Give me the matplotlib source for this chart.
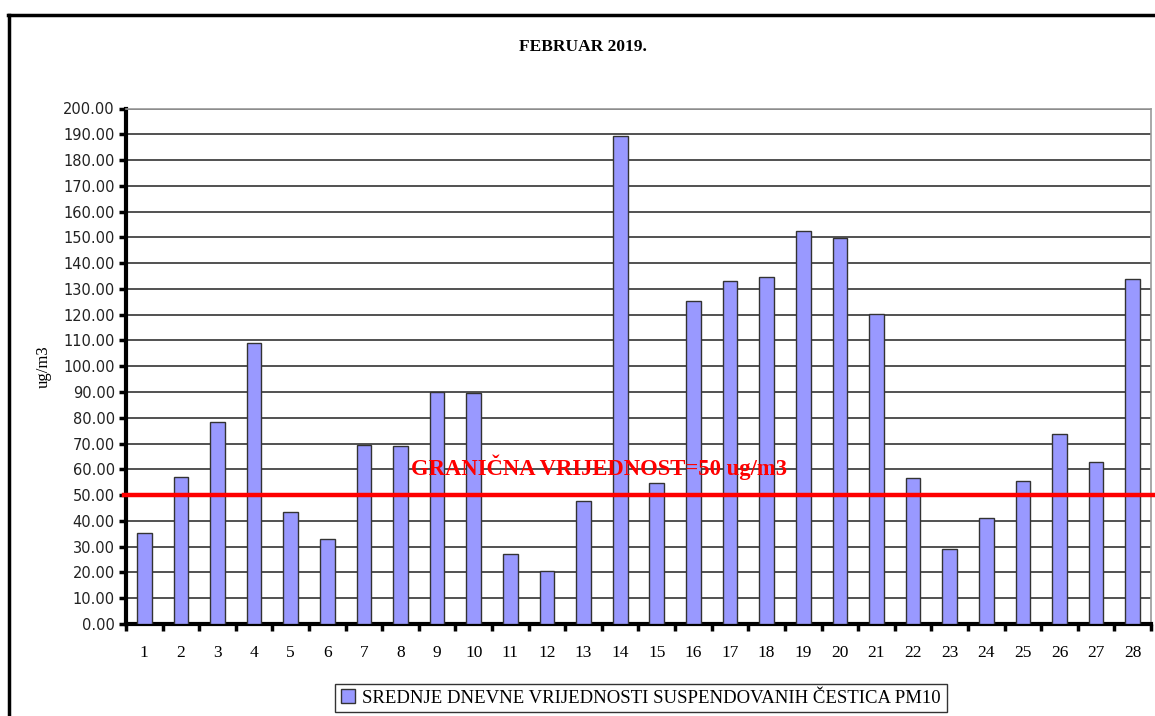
import numpy as np
import matplotlib
matplotlib.use('Agg')
from matplotlib import pyplot as plt
from matplotlib.lines import Line2D
from matplotlib.patches import Patch

# daily mean PM10, February 2019
days = list(range(1, 29))
pm10 = [35.3, 57.2, 78.2, 109.0, 43.6, 33.0, 69.3, 68.9, 90.0, 89.5,
        27.0, 20.5, 47.8, 189.5, 54.8, 125.3, 133.1, 134.5, 152.5, 149.6,
        120.2, 56.5, 29.1, 41.2, 55.6, 73.7, 63.0, 134.0]
limit = 50
yticks = np.arange(0, 201, 10)

serif = 'Liberation Serif'

fig = plt.figure(figsize=(11.55, 7.16), dpi=100)
ax = fig.add_axes([126/1155, 92/716, 1025/1155, 515.5/716])

ax.bar(days, pm10, width=0.4, color='#9999ff', edgecolor='#333333', linewidth=1.0, zorder=3)
ax.set_xlim(0.5, 28.5)
ax.set_ylim(0, 200)

ax.set_yticks(yticks)
ax.set_yticklabels(['%.2f' % v for v in yticks], fontsize=10.5, color='#222222')
ax.yaxis.grid(True, color='#333333', linewidth=1.2, zorder=1)
ax.tick_params(axis='y', length=5, width=2.5, direction='out', pad=3)

ax.set_xticks(days)
ax.set_xticklabels([str(d) for d in days], fontsize=12.5, family=serif)
ax.set_xticks(np.arange(0.5, 29, 1), minor=True)
ax.tick_params(axis='x', which='major', length=0, pad=15)
ax.tick_params(axis='x', which='minor', length=5, width=2.5, direction='out')

for s in ['left', 'bottom']:
    ax.spines[s].set_linewidth(3)
    ax.spines[s].set_color('black')
for s in ['top', 'right']:
    ax.spines[s].set_linewidth(1.2)
    ax.spines[s].set_color('#999999')

# limit line runs a bit beyond plot area
ax.add_line(Line2D([0.44, 28.6], [limit, limit], color='red', linewidth=3.2, zorder=4, clip_on=False))
ax.text(13.42, 60.8, 'GRANIČNA VRIJEDNOST=50 ug/m3', color='red', fontsize=16.3, family=serif,
        fontweight='bold', ha='center', va='center', zorder=5)

ax.set_ylabel('ug/m3', family=serif, fontsize=12, labelpad=8)

fig.text(583/1155, 1 - 47/716, 'FEBRUAR 2019.', family=serif, fontsize=12.5, fontweight='bold',
         ha='center', va='center')

leg = fig.legend(handles=[Patch(facecolor='#9999ff', edgecolor='#333333',
                                label='SREDNJE DNEVNE VRIJEDNOSTI SUSPENDOVANIH ČESTICA PM10')],
                 loc='center', bbox_to_anchor=(641/1155, 1 - 698/716), frameon=True, fancybox=False,
                 prop={'family': serif, 'size': 13.5}, handlelength=0.75, handleheight=0.75,
                 handletextpad=0.4, borderpad=0.3)
leg.get_frame().set_edgecolor('black')
leg.get_frame().set_linewidth(1.0)

# outer chart frame
fig.add_artist(Line2D([8/1155, 1.0], [1 - 15/716, 1 - 15/716], color='black', linewidth=2.5,
                      transform=fig.transFigure))
fig.add_artist(Line2D([9/1155, 9/1155], [0, 1 - 15/716], color='black', linewidth=2.5,
                      transform=fig.transFigure))

fig.savefig('out.png', dpi=100)
